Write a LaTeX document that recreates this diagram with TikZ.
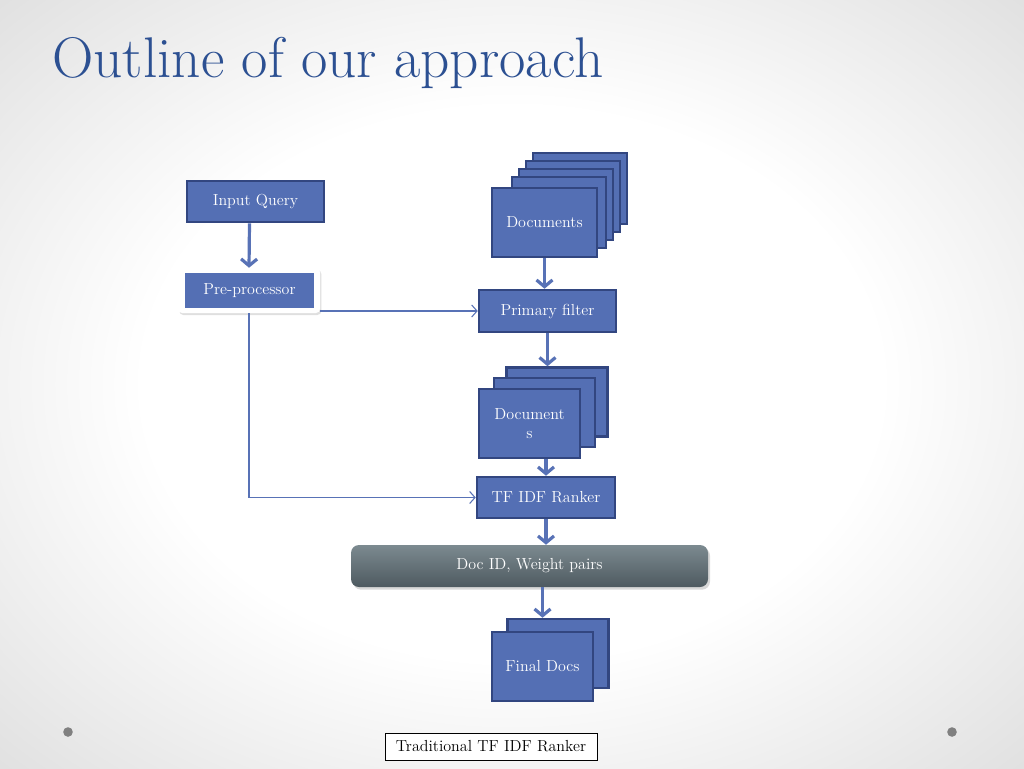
\documentclass[tikz,border=0pt]{standalone}
\usepackage{xcolor}
\usepackage{tikz}
\usetikzlibrary{arrows.meta}
\usetikzlibrary{shadows}
\definecolor{boxblue}{RGB}{84,111,180}
\definecolor{boxline}{RGB}{50,70,128}
\definecolor{flowblue}{RGB}{88,114,182}
\definecolor{titleblue}{RGB}{44,80,146}
\definecolor{bartop}{RGB}{124,138,144}
\definecolor{barbot}{RGB}{78,90,96}
\definecolor{dotgray}{RGB}{128,128,128}
\pgfdeclareradialshading{slidebg}{\pgfpoint{0bp}{0bp}}{color(0bp)=(white); color(18bp)=(white); color(40bp)=(black!15); color(50bp)=(black!22)}

\begin{document}
\begin{tikzpicture}[x=0.75pt, y=-0.75pt,
			wh/.style 2 args={minimum width=#1*0.75pt, minimum height=#2*0.75pt},
			every node/.style={inner sep=0pt, align=center, font=\fontsize{12}{14.5}\selectfont},
			box/.style={draw=boxline, line width=1.9pt, fill=boxblue, text=white},
			flow/.style={draw=flowblue, line width=2.4pt, -{Straight Barb[length=5pt,width=12pt,line width=2.4pt]}},
			link/.style={draw=flowblue, line width=0.8pt, -{Straight Barb[length=4pt,width=9pt]}}]
			% Background
			\shade[shading=slidebg] (0,0) rectangle (1024,768);
			\useasboundingbox (0,0) rectangle (1024,768);
			\node[anchor=base west, text=titleblue, font=\fontsize{43}{50}\selectfont] (title) at (52,77) {Outline of our approach};
			% Nodes
			\node[box, wh={137}{41}] (1) at (255.5,201.5) {Input Query};
			\node[fill=white, rounded corners=3pt, wh={142}{45}, drop shadow={opacity=0.25, shadow xshift=1pt, shadow yshift=-1.5pt}] (2) at (249,290.5) {};
			\node[fill=boxblue, text=white, wh={129}{35}] (2b) at (249.5,290.5) {Pre-processor};
			\foreach \i in {3,2,1,0}
				\node[box, wh={94}{71}] (3\i) at (559+7*\i,212.5-8*\i) {};
			\node[box, wh={105}{69}] (3) at (544.5,222.5) {Documents};
			\node[box, wh={137}{42}] (4) at (547.5,311) {Primary filter};
			\node[box, wh={101}{69}] (5b) at (557,402) {};
			\node[box, wh={101}{69}] (5a) at (544.5,412.5) {};
			\node[box, wh={101}{69}] (5) at (529.5,423.5) {Document\\s};
			\node[box, wh={138}{41}] (6) at (546,497.5) {TF IDF Ranker};
			\node[rounded corners=6pt, top color=bartop, bottom color=barbot, text=white, wh={357}{42},
				drop shadow={opacity=0.3, shadow xshift=1.5pt, shadow yshift=-2pt}] (7) at (529.5,566) {Doc ID, Weight pairs};
			\node[box, wh={101}{69}] (8b) at (558,653.5) {};
			\node[box, wh={101}{69}] (8) at (542.5,666.5) {Final Docs};
			\node[draw=black, line width=0.6pt, fill=white, wh={212}{27}] (9) at (491,746.5) {Traditional TF IDF Ranker};
			\fill[dotgray] (68,732) circle (3.6pt);
			\fill[dotgray] (952,732) circle (3.6pt);
			% Edges
			\draw[flow] (1.south -| 2b.north) -- (2.north);
			\draw[flow] (3.south) -- (3.south |- 4.north);
			\draw[flow] (4.south) -- (4.south |- 5b.north);
			\draw[flow] (6.north |- 5.south) -- (6.north);
			\draw[flow] (6.south) -- (6.south |- 7.north);
			\draw[flow] (8.north |- 7.south) -- (8.north |- 8b.north);
			\draw[link] (2.east |- 4.west) -- (4.west);
			\draw[link] (2.south) |- (6.west);
		\end{tikzpicture}
\end{document}
